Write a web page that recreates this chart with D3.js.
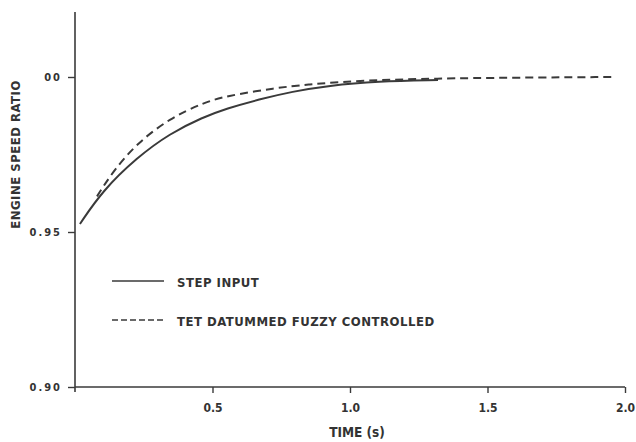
<!DOCTYPE html>
<html>
<head>
<meta charset="utf-8">
<script src="https://cdn.jsdelivr.net/npm/d3@7"></script>
<style>
  body { margin: 0; background: #fff; }
  svg text { font-family: "DejaVu Sans Condensed", "Liberation Sans Narrow", sans-serif; font-weight: bold; fill: #333; }
</style>
</head>
<body>
<div id="chart"></div>
<script>
// step input response (time s, ratio)
const stepTime  = [0.018, 0.10, 0.225, 0.345, 0.465, 0.55, 0.67, 0.79, 0.92, 1.10, 1.32]
const stepRatio = [0.9526, 0.9633, 0.974, 0.9818, 0.987, 0.9898, 0.9928, 0.9953, 0.9972, 0.9986, 0.999]

// tet datummed fuzzy controlled response
const fuzzyTime  = [0.08, 0.14, 0.225, 0.345, 0.465, 0.545, 0.73, 0.85, 0.97, 1.10, 1.30, 1.60, 1.95]
const fuzzyRatio = [0.9615, 0.9698, 0.9786, 0.9867, 0.9916, 0.9938, 0.9965, 0.9976, 0.9984, 0.999, 0.9995, 0.9998, 1.0]

const xTicks = [0.5, 1.0, 1.5, 2.0]
const xTickLabels = ['0.5', '1.0', '1.5', '2.0']
const yTicks = [0.90, 0.95, 1.00]
const yTickLabels = ['0.90', '0.95', '00']
const legendLabels = ['STEP INPUT', 'TET DATUMMED FUZZY CONTROLLED']

const width = 636, height = 442
const margin = { top: 12, left: 75, right: 11, bottom: 54 }
const ink = '#3a3a3a'

const svg = d3.select('#chart').append('svg')
  .attr('width', width)
  .attr('height', height)

const x = d3.scaleLinear().domain([0, 2]).range([margin.left, width - margin.right])
const y = d3.scaleLinear().domain([0.90, 1.0]).range([387, 77])
const yTop = 1.021

// axes
const gX = svg.append('g').attr('transform', `translate(0, ${y(0.90)})`)
gX.call(d3.axisBottom(x).tickValues(xTicks).tickSize(6).tickFormat((d, i) => xTickLabels[i]).tickPadding(10))
gX.select('.domain').attr('stroke', ink).attr('stroke-width', 1.6).attr('d', `M${x(0)},0H${x(2)}`)
gX.selectAll('.tick line').attr('stroke', ink).attr('stroke-width', 1.4)
gX.selectAll('.tick text').attr('font-size', 12).attr('fill', '#333').style('font-family', null)

const gY = svg.append('g').attr('transform', `translate(${x(0)}, 0)`)
gY.call(d3.axisLeft(y).tickValues(yTicks).tickSize(7).tickFormat((d, i) => yTickLabels[i]).tickPadding(6))
gY.select('.domain').attr('stroke', ink).attr('stroke-width', 1.6).attr('d', `M0,${y(yTop)}V${y(0.90) + 5}`)
gY.selectAll('.tick line').attr('stroke', ink).attr('stroke-width', 1.4)
gY.selectAll('.tick text').attr('font-size', 11).attr('letter-spacing', 2).attr('fill', '#333').style('font-family', null)

// axis titles
svg.append('text')
  .attr('x', x(1.0) + 7)
  .attr('y', 437)
  .attr('text-anchor', 'middle')
  .attr('font-size', 13.5)
  .text('TIME (s)')

svg.append('text')
  .attr('transform', `translate(20, ${y(0.975)}) rotate(-90)`)
  .attr('text-anchor', 'middle')
  .attr('font-size', 13)
  .attr('letter-spacing', 0.5)
  .text('ENGINE SPEED RATIO')

// curves
const line = d3.line()
  .x(d => x(d[0]))
  .y(d => y(d[1]))
  .curve(d3.curveBasis)

svg.append('path')
  .datum(d3.zip(stepTime, stepRatio))
  .attr('d', line)
  .attr('fill', 'none')
  .attr('stroke', ink)
  .attr('stroke-width', 2)

svg.append('path')
  .datum(d3.zip(fuzzyTime, fuzzyRatio))
  .attr('d', line)
  .attr('fill', 'none')
  .attr('stroke', ink)
  .attr('stroke-width', 2)
  .attr('stroke-dasharray', '8,5')

// legend
const gLegend = svg.append('g').attr('transform', 'translate(112, 281)')
gLegend.selectAll('line')
  .data(legendLabels)
  .enter()
  .append('line')
  .attr('x1', 0)
  .attr('x2', 52)
  .attr('y1', (d, i) => i * 39)
  .attr('y2', (d, i) => i * 39)
  .attr('stroke', ink)
  .attr('stroke-width', 1.4)
  .attr('stroke-dasharray', (d, i) => i === 1 ? '6,3' : null)

gLegend.selectAll('text')
  .data(legendLabels)
  .enter()
  .append('text')
  .attr('x', 65)
  .attr('y', (d, i) => i * 39 + 6)
  .attr('font-size', 13)
  .attr('letter-spacing', 0.5)
  .text(d => d)
</script>
</body>
</html>
